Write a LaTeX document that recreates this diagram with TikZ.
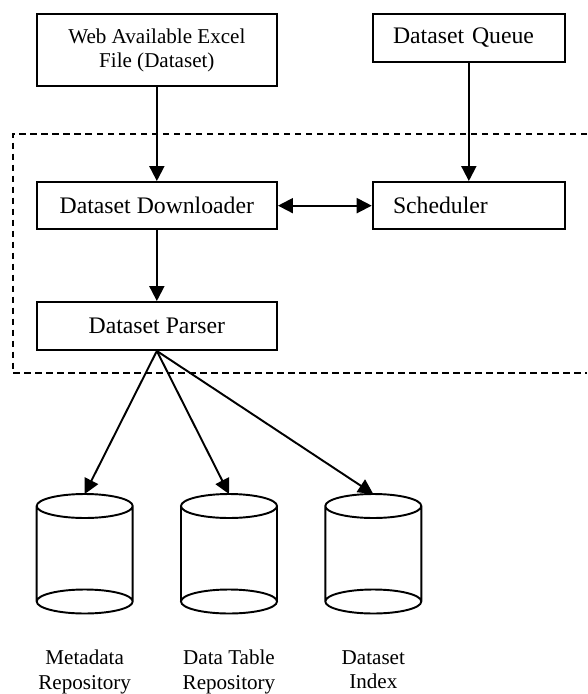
\documentclass[tikz,border=0pt]{standalone}
\usepackage{fontspec}
\setmainfont{Liberation Serif}
\usetikzlibrary{arrows.meta}

\tikzset{
  blk/.style={draw, line width=1.1pt, minimum width=4.806cm, inner sep=0pt, align=center,
    font=\fontsize{13.5}{16}\selectfont},
  blkl/.style={draw, line width=1.1pt, text width=3.034cm, inner xsep=0.406cm, inner ysep=0pt,
    align=left, font=\fontsize{13.5}{16}\selectfont},
  lbl/.style={inner sep=0pt, anchor=north, align=center, font=\fontsize{12}{13.7}\selectfont},
  flow/.style={line width=1.1pt, -{Triangle[length=0.3cm,width=0.3cm]}},
}

\begin{document}
\begin{tikzpicture}
      \useasboundingbox (0,0) rectangle (11.74,-13.88);
      % boxes
      \node[blk, minimum height=1.44cm, font=\fontsize{12}{13.7}\selectfont] (web) at (3.137,-1.0) {Web Available Excel\\File (Dataset)};
      \node[blkl, minimum height=0.96cm] (queue) at (9.377,-0.76) {Dataset Queue};
      \node[blk, minimum height=0.946cm] (down) at (3.137,-4.113) {Dataset Downloader};
      \node[blkl, minimum height=0.946cm] (sched) at (9.377,-4.113) {Scheduler};
      \node[blk, minimum height=0.96cm] (parser) at (3.137,-6.52) {Dataset Parser};
      % dashed frame, open on the right
      \draw[line width=1.1pt, dash pattern=on 0.13cm off 0.09cm] (11.74,-2.68)--(0.254,-2.68)--(0.254,-7.466)--(11.74,-7.466);
      % repositories
      \draw[line width=1.1pt] (0.734,-10.12)--(0.734,-12.03) (2.654,-10.12)--(2.654,-12.03)
        (1.694,-10.12)circle[x radius=0.96,y radius=0.24] (1.694,-12.03)circle[x radius=0.96,y radius=0.24];
      \draw[line width=1.1pt] (3.62,-10.12)--(3.62,-12.03) (5.54,-10.12)--(5.54,-12.03)
        (4.58,-10.12)circle[x radius=0.96,y radius=0.24] (4.58,-12.03)circle[x radius=0.96,y radius=0.24];
      \draw[line width=1.1pt] (6.506,-10.12)--(6.506,-12.03) (8.426,-10.12)--(8.426,-12.03)
        (7.466,-10.12)circle[x radius=0.96,y radius=0.24] (7.466,-12.03)circle[x radius=0.96,y radius=0.24];
      \coordinate (meta) at (1.694,-9.88);
      \coordinate (table) at (4.58,-9.88);
      \coordinate (index) at (7.466,-9.88);
      \node[lbl] (metalbl) at (1.694,-13.0) {Metadata\\Repository};
      \node[lbl] (tablelbl) at (4.58,-13.0) {Data Table\\Repository};
      \node[lbl] (indexlbl) at (7.466,-13.0) {Dataset\\Index};
      % arrows
      \draw[flow] (web)--(down);
      \draw[flow] (queue)--(sched);
      \draw[flow, {Triangle[length=0.3cm,width=0.3cm]}-{Triangle[length=0.3cm,width=0.3cm]}] (down)--(sched);
      \draw[flow] (down)--(parser);
      \draw[flow] (parser.south)--(meta);
      \draw[flow] (parser.south)--(table);
      \draw[flow] (parser.south)--(index);
\end{tikzpicture}
\end{document}
